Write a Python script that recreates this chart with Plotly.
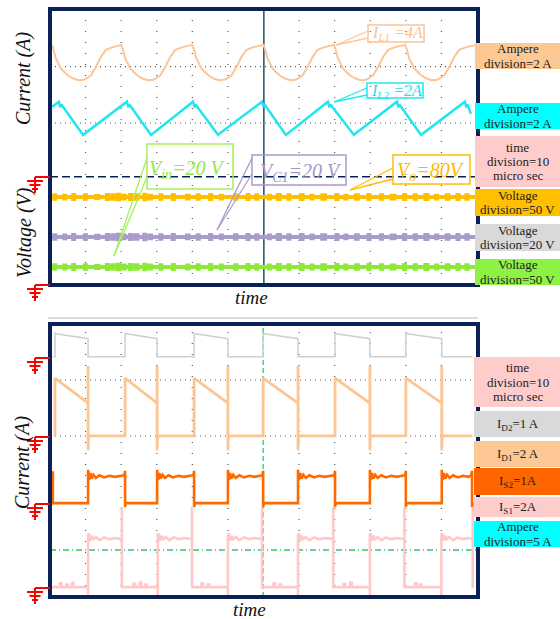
import plotly.graph_objects as go

W, H = 560, 619

# ======================= DATA =======================
# time in microseconds (12 div x 10 us), vertical values in screen divisions (0..5)
TIME_RANGE = [0, 120]
DIV_RANGE = [0, 5]

# ---- top panel : inductor currents ----
IL1_PEAK_T = [0.5, 20.0, 40.0, 60.0, 79.8, 99.8]
IL1_END_T = 119.7
IL1_DT = [0, 0.5, 1.1, 1.8, 2.5, 3.5, 4.5, 6.0, 7.5, 9.0, 10.0, 11.0, 12.4, 13.8, 15.2, 17.2]
IL1_Y = [4.35, 4.26, 4.11, 4.02, 3.93, 3.86, 3.80, 3.74, 3.71, 3.72, 3.75, 3.80, 3.95, 4.13, 4.26, 4.31]
IL1_PEAK_Y = 4.35

IL2_T = [0.6, 2.5, 2.9, 3.2, 9.3, 21.6, 22.0, 22.3, 28.4, 40.2, 40.6, 40.9, 47.2,
         59.6, 60.0, 60.3, 66.3, 78.1, 78.5, 78.8, 85.4, 97.5, 97.9, 98.2, 104.3,
         116.6, 117.0, 117.3, 118.3]
IL2_Y = [3.23, 3.32, 3.22, 3.27, 2.72, 3.32, 3.22, 3.27, 2.72, 3.32, 3.22, 3.27, 2.72,
         3.32, 3.22, 3.27, 2.72, 3.32, 3.22, 3.27, 2.72, 3.32, 3.22, 3.27, 2.72,
         3.32, 3.22, 3.27, 3.10]

# ---- top panel : voltages ----
VO_LEVEL = 1.594
VC1_LEVEL = 0.870
VIN_LEVEL = 0.326
V_START, V_END = 0.5, 119.8
V_BLIPS = [(1.2, 1.5, 0.03), (4.0, 4.3, 0.025), (6.5, 6.8, 0.035), (9.8, 10.1, 0.03),
           (13.0, 13.6, 0.02), (16.0, 16.3, 0.035), (17.5, 17.8, 0.03), (19.0, 19.4, 0.04),
           (20.5, 21.0, 0.025), (22.5, 22.8, 0.035), (24.0, 24.6, 0.03), (26.5, 26.8, 0.04),
           (28.0, 28.4, 0.025), (31.0, 31.3, 0.03), (34.5, 34.8, 0.035), (38.5, 38.9, 0.025),
           (41.5, 41.8, 0.03), (45.0, 45.3, 0.035), (48.0, 48.3, 0.025), (52.0, 52.4, 0.03),
           (55.5, 55.8, 0.035), (58.0, 58.3, 0.03), (61.5, 61.8, 0.025), (64.0, 64.6, 0.035),
           (67.0, 67.3, 0.03), (70.5, 71.0, 0.035), (73.5, 73.8, 0.025), (76.5, 77.3, 0.03),
           (80.5, 80.8, 0.035), (83.0, 83.3, 0.025), (86.0, 86.5, 0.03), (89.5, 89.8, 0.035),
           (93.0, 93.3, 0.03), (96.0, 96.8, 0.025), (99.5, 99.8, 0.035), (102.5, 102.8, 0.03),
           (105.5, 106.1, 0.035), (108.5, 108.8, 0.025), (111.5, 112.0, 0.03), (114.5, 114.8, 0.035),
           (117.0, 117.4, 0.03)]

# ---- bottom panel : switch / diode currents ----
D2_ON = [(1.4, 10.7), (21.1, 30.1), (40.5, 50.0), (59.9, 69.7), (80.1, 89.9), (100.0, 110.1)]
D2_LOW, D2_HI_START, D2_HI_END = 4.40, 4.82, 4.73
D_START, D_END = 0.8, 118.8

D1_BASE, D1_TOP, D1_SLOPE_END, D1_SPIKE_TOP, D1_SPIKE_BOT = 2.95, 4.01, 3.55, 4.23, 2.69

S2_ON = [(10.7, 21.1), (30.1, 40.5), (50.0, 59.9), (69.7, 80.1), (89.9, 100.0), (110.1, 118.6)]
S2_LOW, S2_HIGH, S2_SPIKE, S2_DIP = 1.72, 2.20, 2.33, 1.65
S2_RIPPLE = [(0.3, -0.06), (0.6, 0.07), (1.0, -0.03), (1.5, 0.04), (2.2, -0.02),
             (3.2, 0.03), (4.5, -0.01), (6.0, 0.02), (7.5, 0.0)]

S1_ON = [(10.7, 20.2), (30.3, 39.9), (50.0, 59.6), (69.7, 79.6), (89.9, 99.6), (110.0, 118.8)]
S1_LOW, S1_HIGH, S1_SPIKE, S1_DIP = 0.18, 1.06, 1.65, 0.02
S1_RIPPLE = [(0.3, 0.10), (0.6, -0.03), (1.0, 0.06), (1.5, 0.0), (2.2, 0.04),
             (3.2, -0.02), (4.5, 0.03), (6.0, 0.0), (7.5, 0.02)]
S1_BUMPS = [(2.8, 0.25), (4.6, 0.23), (6.2, 0.26), (23.5, 0.24), (25.2, 0.26), (26.8, 0.23),
            (42.6, 0.25), (44.4, 0.23), (62.8, 0.25), (64.5, 0.23), (82.5, 0.24), (84.4, 0.26),
            (102.6, 0.25), (104.0, 0.23)]

GREEN_REF = 0.86

# labels
RIGHT_TOP = [(43, 69, "#fdc894", ["Ampere", "division=2 A"]),
             (103, 129, "#00ffff", ["Ampere", "division=2 A"]),
             (136, 187, "#ffcccc", ["time", "division=10", "micro sec"]),
             (189, 216, "#ffc000", ["Voltage", "division=50 V"]),
             (224, 251, "#d9d9d9", ["Voltage", "division=20 V"]),
             (259, 285, "#8ef244", ["Voltage", "division=50 V"])]
RIGHT_BOT = [(357, 407, "#ffcccc", ["time", "division=10", "micro sec"]),
             (411, 437, "#d9d9d9", ["I<sub>D2</sub>=1 A"]),
             (441, 467, "#fdc894", ["I<sub>D1</sub>=2 A"]),
             (468, 495, "#ff6600", ["I<sub>S2</sub>=1A"]),
             (497, 517, "#ffcccc", ["I<sub>S1</sub>=2A"]),
             (521, 547, "#00ffff", ["Ampere", "division=5 A"])]

# ======================= COLORS / STYLE =======================
NAVY = "#0a2158"
C_IL1 = "#fcc597"
C_IL2 = "#22e6ef"
C_VO = "#ffbf00"
C_VC1 = "#a99ccb"
C_VIN = "#8ee83a"
C_D2 = "#cfcfcf"
C_D1 = "#fdc594"
C_S2 = "#ff6a00"
C_S1 = "#ffc9c9"
C_GREEN = "#33c46a"
SERIF = "Liberation Serif"


def px(x):
    return x / W


def py(y):
    return 1 - y / H


# ======================= BUILD TRACES =======================
def build_il1():
    xs, ys = [], []
    for i, p in enumerate(IL1_PEAK_T):
        nxt = IL1_PEAK_T[i + 1] if i + 1 < len(IL1_PEAK_T) else IL1_END_T
        for dt, y in zip(IL1_DT, IL1_Y):
            if p + dt < nxt - 0.3:
                xs.append(p + dt)
                ys.append(y)
    xs.append(IL1_END_T)
    ys.append(IL1_PEAK_Y)
    return xs, ys


def build_voltage(level, sign):
    xs, ys = [V_START], [level]
    for a, b, h in V_BLIPS:
        xs += [a, a, b, b]
        ys += [level, level + sign * h, level + sign * h, level]
    xs.append(V_END)
    ys.append(level)
    return xs, ys


def build_d2():
    xs, ys = [D_START], [D2_LOW]
    for a, b in D2_ON:
        xs += [a, a, a + 0.4, b, b]
        ys += [D2_LOW, D2_HI_START + 0.02, D2_HI_START, D2_HI_END, D2_LOW]
    xs.append(D_END)
    ys.append(D2_LOW)
    return xs, ys


def build_d1():
    xs, ys = [], []
    for a, b in D2_ON:
        xs += [a, a, b, b, b, b + 0.15]
        ys += [D1_BASE, D1_TOP, D1_SLOPE_END, D1_SPIKE_TOP, D1_SPIKE_BOT, D1_BASE]
    xs.append(D_END)
    ys.append(D1_BASE)
    return xs, ys


def build_s2():
    xs, ys = [0.3, 0.8, 0.8], [S2_HIGH + 0.04, S2_HIGH + 0.1, S2_LOW]
    for a, b in S2_ON:
        xs += [a, a]
        ys += [S2_LOW, S2_SPIKE]
        for dt, off in S2_RIPPLE:
            if a + dt < b - 0.3:
                xs.append(a + dt)
                ys.append(S2_HIGH + off)
        xs += [b - 0.2, b, b, b + 0.2]
        ys += [S2_HIGH + 0.03, S2_SPIKE - 0.02, S2_DIP, S2_LOW]
    return xs, ys


def build_s1():
    xs, ys = [0.3], [S1_LOW]
    prev = 0.3
    for a, b in S1_ON:
        for t, h in S1_BUMPS:
            if prev < t < a:
                xs += [t, t, t + 0.4, t + 0.4]
                ys += [S1_LOW, h, h, S1_LOW]
        xs += [a, a, a]
        ys += [S1_LOW, S1_DIP, S1_HIGH + 0.08]
        for dt, off in S1_RIPPLE:
            if a + dt < b - 0.3:
                xs.append(a + dt)
                ys.append(S1_HIGH + off)
        xs += [b, b, b, b + 0.2]
        ys += [S1_HIGH, S1_SPIKE, S1_LOW, S1_LOW]
        prev = b
    return xs, ys


fig = go.Figure()


def add(xy, color, width, axis):
    xs, ys = xy
    fig.add_trace(go.Scatter(x=xs, y=ys, mode="lines", line=dict(color=color, width=width),
                             xaxis="x" if axis == 1 else "x2", yaxis="y" if axis == 1 else "y2",
                             hoverinfo="skip", showlegend=False))


# top panel
add(build_il1(), C_IL1, 2, 1)
add((IL2_T, IL2_Y), C_IL2, 2.5, 1)
for lvl, col in [(VO_LEVEL, C_VO), (VC1_LEVEL, C_VC1), (VIN_LEVEL, C_VIN)]:
    add(build_voltage(lvl, 1), col, 4, 1)
    add(build_voltage(lvl, -1), col, 4, 1)
# bottom panel
add(build_d2(), C_D2, 1.5, 2)
add(build_d1(), C_D1, 2.8, 2)
add(build_s2(), C_S2, 2.6, 2)
add(build_s1(), C_S1, 2.6, 2)

# ======================= SHAPES =======================
shapes = []


def line(x0, y0, x1, y1, color, width, dash="solid", layer="above", xref="paper", yref="paper"):
    shapes.append(dict(type="line", x0=x0, y0=y0, x1=x1, y1=y1, xref=xref, yref=yref,
                       line=dict(color=color, width=width, dash=dash), layer=layer))


def pline(x0, y0, x1, y1, color, width, dash="solid", layer="above"):
    line(px(x0), py(y0), px(x1), py(y1), color, width, dash, layer)


# grid - vertical dotted lines
for xr, yr in [("x", "y"), ("x2", "y2")]:
    for k in range(1, 12):
        if k == 6:
            continue
        line(k * 10, 0, k * 10, 5, "#555555", 1.2, "1px,10px", "below", xr, yr)
for yv in [3.955, 2.935]:
    line(0, yv, 120, yv, "#555555", 1.2, "1px,4px", "below", "x", "y")
for yv in [3.974, 2.949]:
    line(0, yv, 120, yv, "#555555", 1.2, "1px,4px", "below", "x2", "y2")
# center lines
line(60.1, 0, 60.1, 5, "#1f4e63", 1.5, "solid", "below", "x", "y")
line(59.9, 0, 59.9, 5, C_GREEN, 1.3, "5px,3px", "below", "x2", "y2")
# reference lines
line(0, 1.962, 120, 1.962, NAVY, 1.5, "8px,4px", "below", "x", "y")
line(0, GREEN_REF, 120, GREEN_REF, C_GREEN, 1.5, "6px,3px,1px,3px", "below", "x2", "y2")

# separator
pline(48, 318, 478, 318, "#dcdcdc", 2)

# frames
for y0, y1 in [(9, 285), (324, 597)]:
    shapes.append(dict(type="rect", xref="paper", yref="paper", x0=px(50), x1=px(478),
                       y0=py(y0), y1=py(y1), line=dict(color=NAVY, width=4),
                       fillcolor="rgba(0,0,0,0)", layer="above"))

# right side boxes
annotations = []
for boxes, xl in [(RIGHT_TOP, 475), (RIGHT_BOT, 474)]:
    for y0, y1, col, lines_ in boxes:
        shapes.append(dict(type="rect", xref="paper", yref="paper", x0=px(xl), x1=1,
                           y0=py(y0), y1=py(y1), line=dict(width=0), fillcolor=col, layer="above"))
        n = len(lines_)
        yc = (y0 + y1) / 2
        for i, t in enumerate(lines_):
            yy = yc + (i - (n - 1) / 2) * 14.3
            annotations.append(dict(text=t, x=px(517.5), y=py(yy), xref="paper", yref="paper",
                                    xanchor="center", yanchor="middle", showarrow=False,
                                    font=dict(family=SERIF, size=13, color="#222222")))

# ground markers
def ground(y0):
    c = "#ff0000"
    pline(35, y0, 50, y0, c, 2)
    pline(35, y0, 35, y0 + 16, c, 2)
    pline(27, y0 + 4, 43, y0 + 4, c, 2)
    pline(29.5, y0 + 8, 40.5, y0 + 8, c, 2)
    pline(32, y0 + 12, 38, y0 + 12, c, 2)


for g in [177, 285, 358, 437, 504, 588]:
    ground(g)

# callout boxes
CALLOUTS = [
    (368, 25, 424, 42, C_IL1, "<i>I</i><sub><i>L1</i></sub><i> =4A</i>", 16, 397, 34,
     [(368, 31), (368, 38)], (336, 45)),
    (367, 83, 423, 98, C_IL2, "<i>I</i><sub><i>L2</i></sub><i> =2A</i>", 16, 396, 91,
     [(367, 88), (367, 95)], (334, 102)),
    (147, 144, 233, 189, "#a6f05a", "<i>V</i><sub><i>in</i></sub><i>=20 V</i>", 20, 188, 170,
     [(147, 158), (147, 177)], (114, 256)),
    (252, 155, 346, 185, C_VC1, "<i>V</i><sub><i>C1</i></sub><i>=20 V</i>", 20, 301, 172,
     [(252, 158), (252, 174)], (217, 230)),
    (393, 155, 470, 184, C_VO, "<i>V</i><sub><i>o</i></sub><i>=80V</i>", 20, 431, 171,
     [(393, 168), (393, 179)], (350, 190)),
]
TEXT_COL = {C_IL1: "#fbc08c", C_IL2: "#14e2ee", "#a6f05a": "#93e84a", C_VC1: "#a497c6", C_VO: "#ffbb00"}
for x0, y0, x1, y1, col, txt, size, tx, ty, wpts, tip in CALLOUTS:
    shapes.append(dict(type="rect", xref="paper", yref="paper", x0=px(x0), x1=px(x1),
                       y0=py(y0), y1=py(y1), line=dict(color=col, width=1.5),
                       fillcolor="rgba(0,0,0,0)", layer="above"))
    for wx, wy in wpts:
        pline(wx, wy, tip[0], tip[1], col, 1.3)
    annotations.append(dict(text=txt, x=px(tx), y=py(ty), xref="paper", yref="paper",
                            xanchor="center", yanchor="middle", showarrow=False,
                            font=dict(family=SERIF, size=size, color=TEXT_COL[col])))

# axis titles
for txt, x, y in [("Current (A)", 24, 79), ("Voltage (V)", 24, 233), ("Current (A)", 22, 463)]:
    annotations.append(dict(text="<i>%s</i>" % txt, x=px(x), y=py(y), xref="paper", yref="paper",
                            xanchor="center", yanchor="middle", showarrow=False, textangle=-90,
                            font=dict(family=SERIF, size=20, color="#111111")))
for x, y in [(251, 297), (249, 609)]:
    annotations.append(dict(text="<i>time</i>", x=px(x), y=py(y), xref="paper", yref="paper",
                            xanchor="center", yanchor="middle", showarrow=False,
                            font=dict(family=SERIF, size=19, color="#111111")))

ax_common = dict(visible=False, showgrid=False, zeroline=False, fixedrange=True)
fig.update_layout(
    width=W, height=H, margin=dict(l=0, r=0, t=0, b=0),
    paper_bgcolor="white", plot_bgcolor="white", showlegend=False,
    xaxis=dict(domain=[px(50), px(477)], range=TIME_RANGE, anchor="y", **ax_common),
    yaxis=dict(domain=[py(285), py(9)], range=DIV_RANGE, anchor="x", **ax_common),
    xaxis2=dict(domain=[px(50), px(477)], range=TIME_RANGE, anchor="y2", **ax_common),
    yaxis2=dict(domain=[py(597), py(324)], range=DIV_RANGE, anchor="x2", **ax_common),
    shapes=shapes, annotations=annotations,
)

fig.write_html("out.html", config={"displayModeBar": False},
               post_script="document.body.style.margin='0';document.body.style.padding='0';"
                           "document.body.style.overflow='hidden';")
